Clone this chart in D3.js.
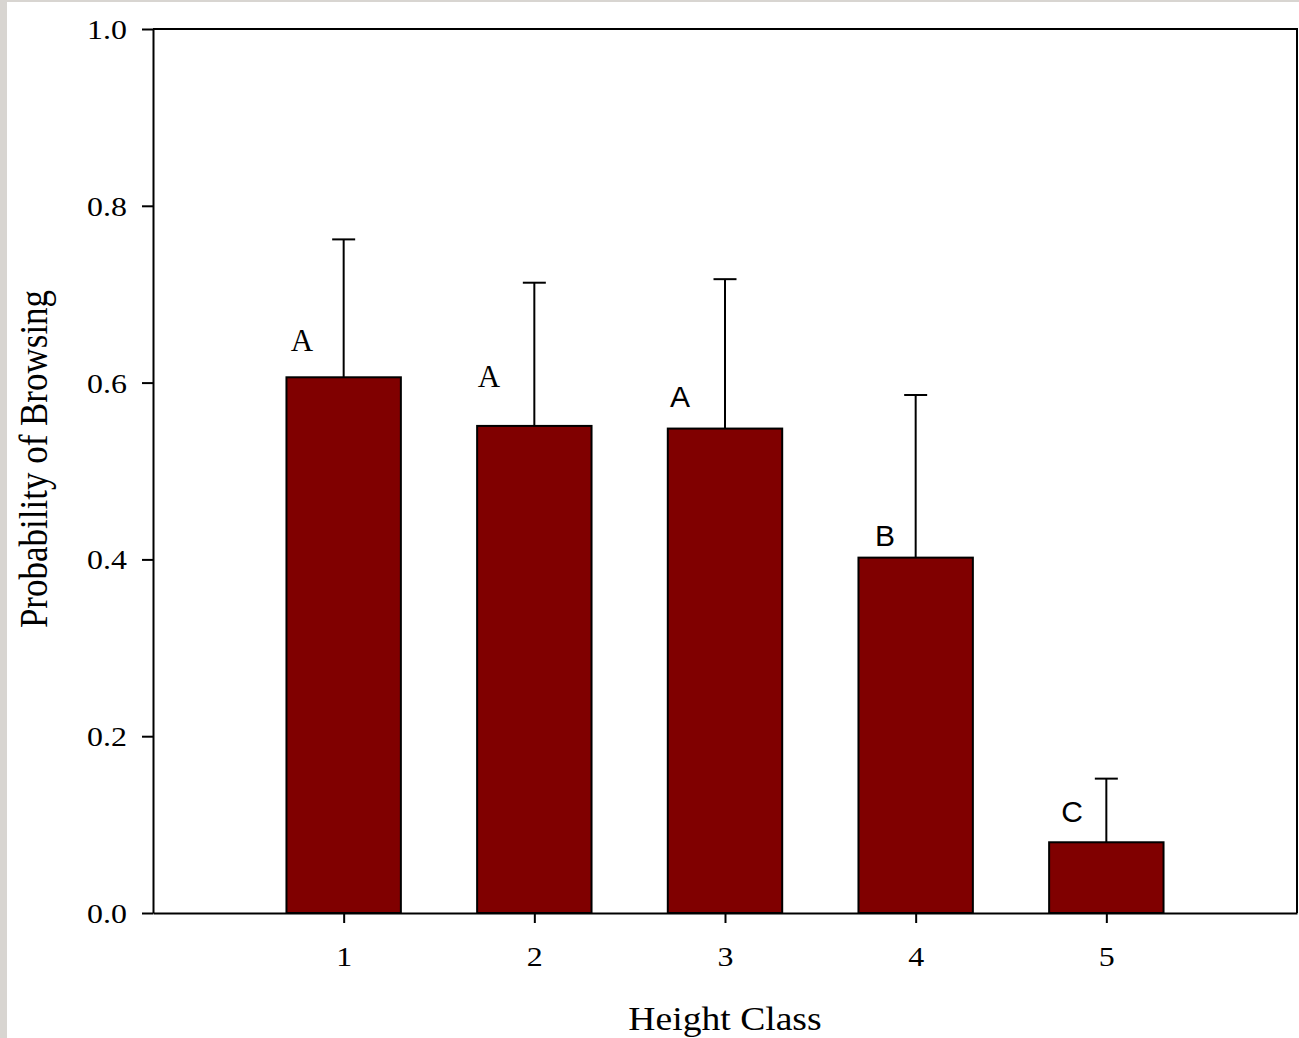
<!DOCTYPE html>
<html>
<head>
<meta charset="utf-8">
<script src="https://cdn.jsdelivr.net/npm/d3@7"></script>
<style>
  html, body { margin: 0; padding: 0; background: #d8d5d1; }
  svg { display: block; }
</style>
</head>
<body>
<svg id="chart" width="1299" height="1038"></svg>
<script>
// ---- data ----
const categories = [1, 2, 3, 4, 5];
const values     = [0.606, 0.551, 0.548, 0.402, 0.080];
const errorTops  = [0.762, 0.713, 0.717, 0.586, 0.152];
const letters    = ["A", "A", "A", "B", "C"];
const letterFont = ["serif", "serif", "sans", "sans", "sans"];
// annotation anchor points in data coordinates
const letterX    = [0.781, 1.762, 2.764, 3.839, 4.82];
const letterY    = [0.636, 0.595, 0.572, 0.415, 0.103];
const yTicks     = [0.0, 0.2, 0.4, 0.6, 0.8, 1.0];
const xTitle = "Height Class";
const yTitle = "Probability of Browsing";

// ---- layout ----
const svg = d3.select("#chart");
const L = 153, R = 1297, T = 29, B = 913;
const serif = "'Liberation Serif', 'Times New Roman', serif";
const sans = "'Liberation Sans', Arial, sans-serif";

svg.append("rect").attr("x", 7).attr("y", 2).attr("width", 1292).attr("height", 1036).attr("fill", "#ffffff");

const x = d3.scaleLinear().domain([0, 6]).range([L, R]);
const y = d3.scaleLinear().domain([0, 1]).range([B, T]);
const barW = x(0.6) - x(0);

// bars
svg.append("g").selectAll("rect").data(categories).join("rect")
  .attr("x", (d) => x(d) - barW / 2)
  .attr("y", (d, i) => y(values[i]))
  .attr("width", barW)
  .attr("height", (d, i) => y(0) - y(values[i]))
  .attr("fill", "#800000")
  .attr("stroke", "#000")
  .attr("stroke-width", 2);

// error bars (upper only)
const eg = svg.append("g").attr("stroke", "#000").attr("stroke-width", 2);
categories.forEach((c, i) => {
  eg.append("line").attr("x1", x(c)).attr("x2", x(c)).attr("y1", y(values[i])).attr("y2", y(errorTops[i]));
  eg.append("line").attr("x1", x(c) - 11.5).attr("x2", x(c) + 11.5).attr("y1", y(errorTops[i])).attr("y2", y(errorTops[i]));
});

// frame (top & right)
svg.append("path")
  .attr("d", `M${L},${T}H${R}V${B}`)
  .attr("fill", "none").attr("stroke", "#000").attr("stroke-width", 2);

const sx = 1.14;
// y axis
const yAxis = svg.append("g").attr("transform", `translate(${L},0)`)
  .call(d3.axisLeft(y).tickValues(yTicks).tickFormat(d3.format(".1f")).tickSize(11).tickSizeOuter(0));
yAxis.select(".domain").attr("stroke-width", 2);
yAxis.selectAll(".tick line").attr("stroke-width", 2);
yAxis.selectAll(".tick text")
  .attr("font-family", serif).attr("font-size", 28).attr("fill", "#000")
  .attr("x", -26 / sx).attr("dy", "0.34em")
  .attr("transform", `scale(${sx},1)`);

// x axis
const xAxis = svg.append("g").attr("transform", `translate(0,${B})`)
  .call(d3.axisBottom(x).tickValues(categories).tickFormat(d3.format("d")).tickSize(10).tickSizeOuter(0));
xAxis.select(".domain").attr("stroke-width", 2);
xAxis.selectAll(".tick line").attr("stroke-width", 2);
xAxis.selectAll(".tick text")
  .attr("font-family", serif).attr("font-size", 28).attr("fill", "#000")
  .attr("y", 43).attr("dy", "0.34em")
  .attr("transform", `scale(${sx},1)`);

// letters
svg.append("g").selectAll("text").data(letters).join("text")
  .attr("x", (d, i) => x(letterX[i]))
  .attr("y", (d, i) => y(letterY[i]))
  .attr("text-anchor", "middle")
  .attr("font-family", (d, i) => letterFont[i] === "serif" ? serif : sans)
  .attr("font-size", (d, i) => letterFont[i] === "serif" ? 31 : 30)
  .attr("fill", "#000")
  .text((d) => d);

// axis titles
svg.append("text")
  .attr("transform", `translate(${(L + R) / 2},1030) scale(1.14,1)`)
  .attr("text-anchor", "middle")
  .attr("font-family", serif).attr("font-size", 33).attr("fill", "#000")
  .text(xTitle);

svg.append("text")
  .attr("transform", `translate(47,459) scale(1.15,1) rotate(-90)`)
  .attr("text-anchor", "middle")
  .attr("font-family", serif).attr("font-size", 35).attr("fill", "#000")
  .text(yTitle);
</script>
</body>
</html>
